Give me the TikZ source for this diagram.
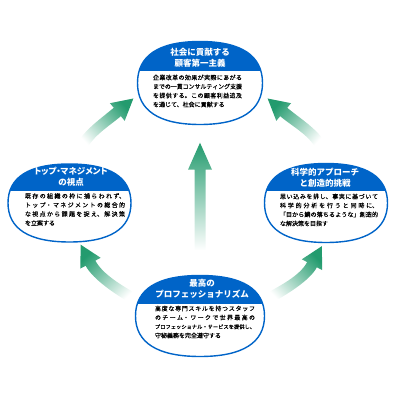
\documentclass[tikz,border=0pt]{standalone}
\usepackage{fontspec}
\setmainfont{Noto Sans CJK JP}
\newfontfamily\bodyfont[FakeBold=0.3]{Noto Sans CJK JP}
\usetikzlibrary{shapes.geometric,calc,positioning,backgrounds}
\XeTeXlinebreaklocale "ja"
\XeTeXlinebreakskip=0pt plus 2pt minus 0.3pt
\tolerance=9999
\definecolor{oceanblue}{RGB}{0,100,200}
\definecolor{arrowgreen}{RGB}{35,155,110}

% rounded oval, a bit fuller than an ellipse
\newcommand{\ovalpath}[3]{($(#1)+(#2,0)$)
  .. controls +(0,0.66*#3) and +(0.66*#2,0) .. ($(#1)+(0,#3)$)
  .. controls +(-0.66*#2,0) and +(0,0.66*#3) .. ($(#1)+(-#2,0)$)
  .. controls +(0,-0.66*#3) and +(-0.66*#2,0) .. ($(#1)+(0,-#3)$)
  .. controls +(0.66*#2,0) and +(0,-0.66*#3) .. ($(#1)+(#2,0)$) -- cycle}

\newcommand{\flowarrow}[5]{%
  \shade[top color=arrowgreen, bottom color=white, shading angle=#5]
    ($(#1)+(#2+90:5.5)$) .. controls +(#2:16) and +(#4+180:16) .. ($(#3)+(#4+90:5.5)$)
    -- ($(#3)+(#4+90:11.5)$) -- ($(#3)+(#4:21)$) -- ($(#3)+(#4-90:11.5)$)
    -- ($(#3)+(#4-90:5.5)$) .. controls +(#4+180:16) and +(#2:16) .. ($(#1)+(#2-90:5.5)$)
    -- cycle;}

\begin{document}
\begin{tikzpicture}[x=1pt, y=1pt,
  ovalbox/.style={ellipse, line width=1.4pt, inner sep=0},
  headtext/.style={text=white, font=\bfseries\fontsize{8.5}{11}\selectfont,
    execute at begin node={\XeTeXlinebreakskip=0pt\relax}, align=center, inner sep=0},
  bodytext/.style={font=\bodyfont\fontsize{6}{9}\selectfont, align=justify, inner sep=0}]
  \useasboundingbox (0,0) rectangle (401,401);

  \node[ovalbox, minimum width=126, minimum height=84] (goal) at (200,318) {};
  \node[ovalbox, minimum width=124, minimum height=79] (view) at (69.5,198) {};
  \node[ovalbox, minimum width=124, minimum height=80] (science) at (326,198) {};
  \node[ovalbox, minimum width=130, minimum height=82] (pro) at (200,85) {};

  \foreach \n/\rx/\ry in {goal/62.5/41.5, view/61.5/39, science/61.5/39.5, pro/64.5/40.5} {
    \fill[white] \ovalpath{\n}{\rx}{\ry};
    \begin{scope}
      \clip \ovalpath{\n}{\rx}{\ry};
      \fill[oceanblue] ($(\n)+(-\rx,12)$) rectangle ($(\n)+(\rx,\ry)$);
    \end{scope}
    \draw[oceanblue, line width=1.4pt] \ovalpath{\n}{\rx}{\ry};
  }

  \node[headtext] (goal-head) at ($(goal)+(0,25)$) {社会に貢献する\\顧客第一主義};
  \node[headtext] (view-head) at ($(view)+(1.5,26)$) {{\addfontfeatures{RawFeature=+palt}トップ・マネジメント}\\の視点};
  \node[headtext] (science-head) at ($(science)+(-1,25)$) {科学的アプローチ\\と創造的挑戦};
  \node[headtext] (pro-head) at ($(pro)+(2,27)$) {最高の\\プロフェッショナリズム};

  \node[bodytext, text width=89] (goal-body) at ($(goal)+(-2.5,-8)$)
    {企業改革の効果が実際にあがる\linebreak までの一貫コンサルティング支援\linebreak を提供する。この顧客利益追及\linebreak を通じて、社会に貢献する};
  \node[bodytext, text width=100] (view-body) at ($(view)+(5.5,-6.5)$)
    {既存の組織の枠に捕らわれず、\linebreak トップ・マネジメントの総合的\linebreak な視点から課題を捉え、解決策\linebreak を立案する};
  \node[bodytext, text width=98] (science-body) at ($(science)+(3,-7)$)
    {思い込みを排し、事実に基づいて\linebreak 科学的分析を行うと同時に、\linebreak 「目から鱗の落ちるような」創造的\linebreak な解決策を目指す};
  \node[bodytext, text width=100] (pro-body) at ($(pro)+(5,-6)$)
    {高度な専門スキルを持つスタッフ\linebreak のチーム・ワークで世界最高の\linebreak {\fontsize{5.2}{9}\selectfont プロフェッショナル・サービスを提供し、}\linebreak 守秘義務を完全遵守する};

  \begin{scope}[on background layer]
    \coordinate (up-tail) at ($(pro.north)+(0,24)$);
    \coordinate (up-tip) at ($(goal.south)+(0,-17)$);
    \shade[top color=arrowgreen, bottom color=white]
      ($(up-tail)+(-5.5,0)$) -- ($(up-tip)+(-5.5,-27)$) -- ($(up-tip)+(-12,-27)$)
      -- (up-tip) -- ($(up-tip)+(12,-27)$) -- ($(up-tip)+(5.5,-27)$)
      -- ($(up-tail)+(5.5,0)$) -- cycle;
    \flowarrow{$(view.north)+(12,16)$}{62}{$(goal.west)+(-19,-29)$}{40}{-47}
    \flowarrow{$(science.north)+(-5,16)$}{118}{$(goal.east)+(20,-29)$}{140}{48}
    \flowarrow{$(pro.west)+(0,17)$}{150}{$(view.south)+(21,-20)$}{118}{44}
    \flowarrow{$(pro.east)+(2,17)$}{30}{$(science.south)+(-14,-21)$}{62}{-46}
  \end{scope}
\end{tikzpicture}
\end{document}
